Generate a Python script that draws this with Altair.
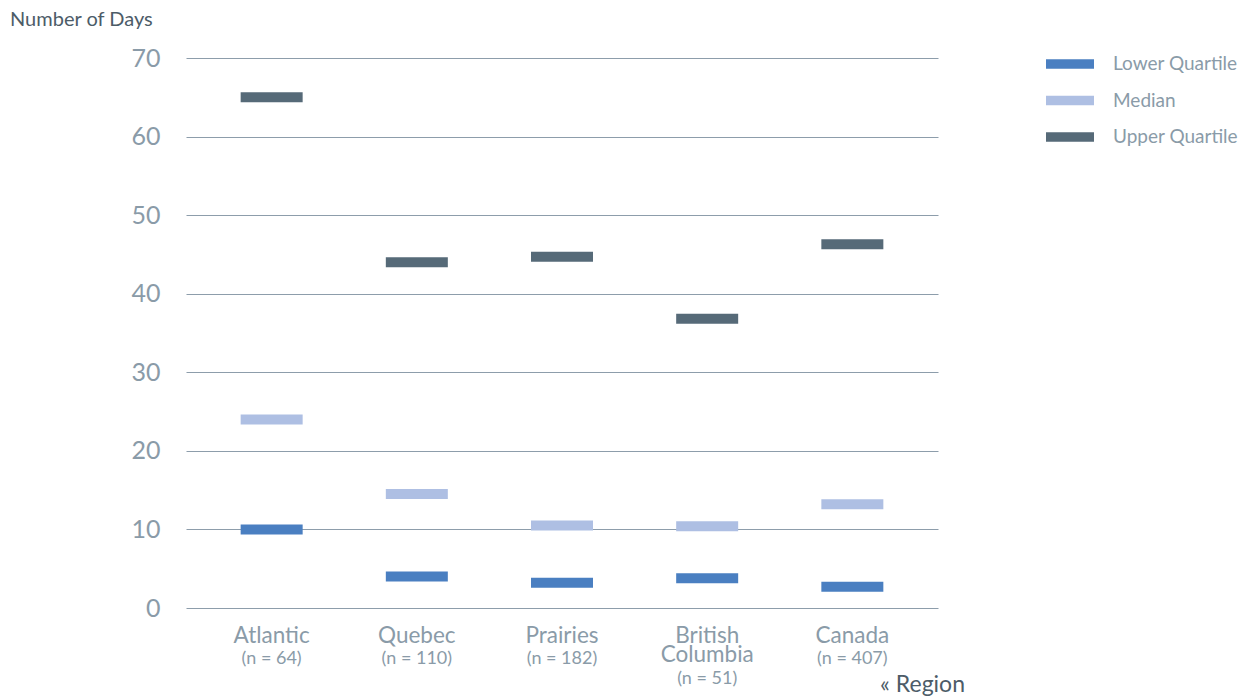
import altair as alt
import pandas as pd

regions = ["Atlantic", "Quebec", "Prairies", "British\nColumbia", "Canada"]
n_labels = ["(n = 64)", "(n = 110)", "(n = 182)", "(n = 51)", "(n = 407)"]
lower_q = [10, 4, 3.2, 3.8, 2.7]
median = [24, 14.5, 10.5, 10.4, 13.2]
upper_q = [65, 44, 44.7, 36.8, 46.3]
series = ["Lower Quartile", "Median", "Upper Quartile"]
y_ticks = [0, 10, 20, 30, 40, 50, 60, 70]

rows = []
for i, r in enumerate(regions):
    for s, vals in zip(series, [lower_q, median, upper_q]):
        rows.append({"region": r, "series": s, "value": vals[i]})
df = pd.DataFrame(rows)
lab = pd.DataFrame({"region": regions, "n": n_labels})

FONT = "Lato"
LIGHT = "#8a9ba8"
DARK = "#4d5c68"

xscale = alt.Scale(domain=regions, paddingInner=0, paddingOuter=0.09)
xenc = alt.X("region:N", scale=xscale, axis=None, sort=regions)

sym_path = "M-1.5,-0.3H1.5V0.3H-1.5Z"

bars = alt.Chart(df).mark_tick(thickness=10, size=62, opacity=1).encode(
    x=xenc,
    y=alt.Y("value:Q", scale=alt.Scale(domain=[0, 70], nice=False),
            axis=alt.Axis(values=y_ticks, grid=True, gridColor="#8d9dab", gridWidth=1,
                          domain=False, ticks=False, labelFont=FONT, labelFontSize=25,
                          labelColor=LIGHT, labelPadding=26, title=None)),
    color=alt.Color("series:N", sort=series,
                    scale=alt.Scale(domain=series, range=["#4a7fc1", "#aebfe3", "#566a78"]),
                    legend=alt.Legend(title=None, orient="none", legendX=868, legendY=-10,
                                      symbolType=sym_path, symbolSize=1024,
                                      symbolStrokeWidth=0, labelOffset=27, rowPadding=10.5,
                                      labelFont=FONT, labelFontSize=19, labelColor=LIGHT)),
)

names = alt.Chart(lab).mark_text(font=FONT, fontSize=22.5, color=LIGHT, lineBreak="\n",
                                 baseline="middle", lineHeight=19).encode(
    x=xenc, y=alt.value(578), text="region:N")

n_single = alt.Chart(lab).transform_filter("indexof(datum.region, '\\n') < 0").mark_text(
    font=FONT, fontSize=18, color=LIGHT, baseline="middle").encode(
    x=xenc, y=alt.value(601), text="n:N")

n_multi = alt.Chart(lab).transform_filter("indexof(datum.region, '\\n') >= 0").mark_text(
    font=FONT, fontSize=18, color=LIGHT, baseline="middle").encode(
    x=xenc, y=alt.value(621), text="n:N")

ytitle = alt.Chart(pd.DataFrame({"t": ["Number of Days"]})).mark_text(
    font=FONT, fontSize=20, color=DARK, align="left", baseline="middle").encode(
    x=alt.value(-176), y=alt.value(-38), text="t:N")

xtitle = alt.Chart(pd.DataFrame({"t": ["« Region"]})).mark_text(
    font=FONT, fontSize=23, color=DARK, align="right", baseline="middle").encode(
    x=alt.value(779), y=alt.value(627), text="t:N")

chart = alt.layer(bars, names, n_single, n_multi, ytitle, xtitle).properties(
    width=752, height=550,
    autosize=alt.AutoSizeParams(type="none"),
    padding={"left": 178, "top": 50, "right": 307, "bottom": 100},
).configure_view(stroke=None)

chart.save("out.html", embed_options={"renderer": "svg", "actions": False})
